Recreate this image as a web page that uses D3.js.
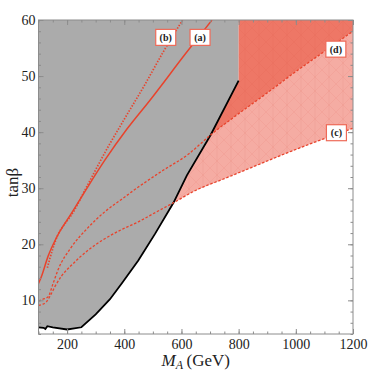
<!DOCTYPE html>
<html>
<head>
<meta charset="utf-8">
<script src="https://cdn.jsdelivr.net/npm/d3@7/dist/d3.min.js"></script>
<style>
body{margin:0;background:#fff}
text{font-family:"Liberation Serif","DejaVu Serif",serif}
</style>
</head>
<body>
<svg id="chart"></svg>
<script>
// excluded (grey) region boundary, M_A (GeV) vs tan beta
var boundary = [[100,5.2],[118,5.1],[124,4.9],[131,5.4],[150,5.2],[200,4.8],[250,5.2],
    [300,7.5],[350,10.2],[391,13.0],[449,17.1],[508,21.9],[572,27.4],[619,32.3],[702,39.5],[800,49.2]]
var greyEdge = 800

// curves (a)-(d)
var lineA = [[100,13.0],[110,14.2],[133,17.8],[162,21.1],[215,25.5],[273,30.3],[332,35.0],
    [410,40.6],[490,45.7],[616,54.1],[707,60]]
var lineB = [[131,15.8],[140,17.5],[150,19.2],[168,21.7],[190,23.5],[215,25.2],[270,30.4],
    [337,36.8],[400,42.3],[470,48.3],[534,54.1],[604,60]]
var lineC = [[100,9.1],[115,9.3],[127,9.7],[145,11.2],[157,12.4],[180,14.3],[215,16.25],
    [270,18.8],[332,21.0],[390,22.6],[449,24.0],[510,25.7],[572,27.4],[649,29.6],
    [750,31.7],[850,33.8],[950,35.9],[1050,37.9],[1200,40.7]]
var lineD = [[100,9.9],[115,10.2],[133,10.6],[151,13.0],[168,15.4],[215,19.5],[270,22.8],
    [332,25.8],[390,28.0],[449,30.2],[530,33.0],[625,36.1],[702,39.5],[800,43.3],
    [900,47.0],[1000,50.8],[1100,54.4],[1200,58.0]]
var crossC = 572   // where (c) meets the boundary
var crossD = 702   // where (d) meets the boundary

var labelNames = ["(a)","(b)","(c)","(d)"]
var labelAt = [[665,56.9],[545,56.9],[1142,39.9],[1140,54.8]]

var xTicks = [200,400,600,800,1000,1200]
var yTicks = [10,20,30,40,50,60]
var xMinor = d3.range(100,1201,50)
var yMinor = d3.range(4,61,2)

var width = 374, height = 373
var margins = {left:38.5, top:20, right:21, bottom:39}

var svg = d3.select("#chart").attr("width",width).attr("height",height)

var x = d3.scaleLinear().domain([100,1200]).range([margins.left,width-margins.right])
var y = d3.scaleLinear().domain([4,60]).range([height-margins.bottom,margins.top])

var defs = svg.append("defs")
defs.append("clipPath").attr("id","plot")
    .append("rect")
    .attr("x",x(100)).attr("y",y(60))
    .attr("width",x(1200)-x(100)).attr("height",y(4)-y(60))
// faint mesh texture seen in the shaded red regions
var pat = defs.append("pattern").attr("id","mesh").attr("patternUnits","userSpaceOnUse")
    .attr("width",14).attr("height",14)
pat.append("path").attr("d","M0,0L14,14M14,0L0,14M7,0L7,14")
    .attr("stroke","#d9442f").attr("stroke-width",0.5).attr("opacity",0.15).attr("fill","none")

var area = svg.append("g").attr("clip-path","url(#plot)")
var line = d3.line().x(function(d){return x(d[0])}).y(function(d){return y(d[1])})
var curve = d3.line().x(function(d){return x(d[0])}).y(function(d){return y(d[1])})
    .curve(d3.curveMonotoneX)

// grey region
var grey = [[100,60],[greyEdge,60]].concat(boundary.slice().reverse())
area.append("path").attr("d",line(grey)+"Z").attr("fill","#ababab")

// light red band between (c) and (d)
var light = lineD.filter(function(d){return d[0]>=crossD})
    .concat(lineC.filter(function(d){return d[0]>=crossC}).reverse())
    .concat(boundary.filter(function(d){return d[0]>crossC && d[0]<crossD}))
area.append("path").attr("d",line(light)+"Z").attr("fill","#f5aca3")
area.append("path").attr("d",line(light)+"Z").attr("fill","url(#mesh)")

// dark red above (d)
var dark = [[greyEdge,60],[1200,60]]
    .concat(lineD.filter(function(d){return d[0]>=crossD}).reverse())
    .concat(boundary.filter(function(d){return d[0]>crossD}))
area.append("path").attr("d",line(dark)+"Z").attr("fill","#ee7766")
area.append("path").attr("d",line(dark)+"Z").attr("fill","url(#mesh)")

var red = "#e8432c"
area.append("path").attr("d",line(boundary)).attr("fill","none")
    .attr("stroke","#000").attr("stroke-width",1.8)
area.append("path").attr("d",curve(lineC)).attr("fill","none")
    .attr("stroke",red).attr("stroke-width",1.3).attr("stroke-dasharray","2.5,1.8")
area.append("path").attr("d",curve(lineD)).attr("fill","none")
    .attr("stroke",red).attr("stroke-width",1.3).attr("stroke-dasharray","2.5,1.8")
area.append("path").attr("d",curve(lineA)).attr("fill","none")
    .attr("stroke",red).attr("stroke-width",1.5)
area.append("path").attr("d",curve(lineB)).attr("fill","none")
    .attr("stroke",red).attr("stroke-width",1.7).attr("stroke-dasharray","1.4,1.6")

// labels
var lab = svg.selectAll(".lab").data(labelNames).enter().append("g").attr("class","lab")
    .attr("transform",function(d,i){return "translate("+x(labelAt[i][0])+","+y(labelAt[i][1])+")"})
lab.append("rect").attr("x",-10).attr("y",-8).attr("width",20).attr("height",16)
    .attr("fill","#fff").attr("stroke","#ee6a58").attr("stroke-width",1.2)
lab.append("text").text(function(d){return d})
    .attr("text-anchor","middle").attr("y",3.5)
    .style("font-size","10px").style("font-weight","bold").attr("fill","#222")

// frame + ticks on all sides, pointing in
svg.append("rect").attr("x",x(100)).attr("y",y(60))
    .attr("width",x(1200)-x(100)).attr("height",y(4)-y(60))
    .attr("fill","none").attr("stroke","#8c8c8c").attr("stroke-width",1)

var axes = [
    {ax:d3.axisBottom, sc:x, t:"translate(0,"+y(4)+")", major:xTicks, minor:xMinor, show:true},
    {ax:d3.axisTop, sc:x, t:"translate(0,"+y(60)+")", major:xTicks, minor:xMinor, show:false},
    {ax:d3.axisLeft, sc:y, t:"translate("+x(100)+",0)", major:yTicks, minor:yMinor, show:true},
    {ax:d3.axisRight, sc:y, t:"translate("+x(1200)+",0)", major:yTicks, minor:yMinor, show:false}
]
axes.forEach(function(a){
    var minorG = svg.append("g").attr("transform",a.t)
        .call(a.ax(a.sc).tickValues(a.minor).tickSizeInner(-2.5).tickSizeOuter(0).tickFormat(""))
    var majorG = svg.append("g").attr("transform",a.t)
        .call(a.ax(a.sc).tickValues(a.major).tickSizeInner(-5).tickSizeOuter(0)
            .tickPadding(a.ax===d3.axisBottom?5:3)
            .tickFormat(a.show?d3.format("d"):""))
    ;[minorG,majorG].forEach(function(g){
        g.select(".domain").remove()
        g.selectAll("line").attr("stroke","#8c8c8c")
        g.selectAll("text").style("font-size","14px").attr("fill","#222")
    })
})

// axis titles
var xt = svg.append("text").attr("x",x(650)).attr("y",366)
    .attr("text-anchor","middle").style("font-size","17px").attr("fill","#222")
xt.append("tspan").text("M").style("font-style","italic")
xt.append("tspan").text("A").style("font-style","italic").style("font-size","12px").attr("dy",3)
xt.append("tspan").text("\u2009(GeV)").attr("dy",-3)

svg.append("text").attr("transform","translate(18,"+y(31)+") rotate(-90)")
    .attr("text-anchor","middle").style("font-size","17px").attr("fill","#222")
    .text("tan\u03b2")
</script>
</body>
</html>
